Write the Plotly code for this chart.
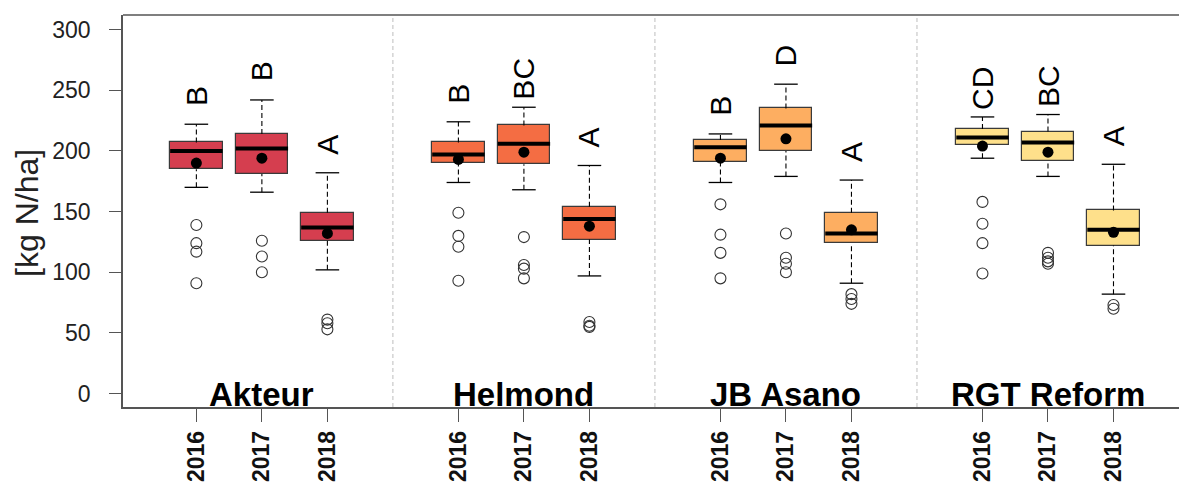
import plotly.graph_objects as go

# Nmin values [kg N/ha] per cultivar and year: box-plot summary statistics
cultivars = ["Akteur", "Helmond", "JB Asano", "RGT Reform"]
years = ["2016", "2017", "2018"]

lower_whisker = [170, 166, 102,  174, 168, 97,  174, 179, 91,  194, 179, 82]
q1            = [185, 181, 126,  190, 189, 127, 191, 200, 124, 205, 192, 122]
median        = [200, 202, 137,  197, 206, 144, 203, 221, 132, 211, 207, 135]
q3            = [207, 214, 149,  207, 221, 154, 209, 235, 149, 218, 216, 151]
upper_whisker = [222, 242, 182,  224, 236, 188, 214, 255, 176, 228, 230, 189]
means         = [190, 194, 132,  193, 199, 138, 194, 210, 135, 204, 199, 133]
outliers = [
    [139, 124, 117, 91], [126, 113, 100], [61, 58, 53],
    [149, 130, 121, 93], [129, 106, 103, 95], [59, 56, 55],
    [156, 131, 116, 95], [132, 112, 107, 100], [82, 78, 74],
    [158, 140, 124, 99], [116, 112, 109, 107], [73, 70],
]
letters = ["B", "B", "A", "B", "BC", "A", "B", "D", "A", "CD", "BC", "A"]

cultivar_colors = ["#D53E4F", "#F46D43", "#FDAE61", "#FEE08B"]

FONT = "Liberation Sans, Arial, sans-serif"
BOX_W = 0.8
CAP_HALF = 0.18
LETTER_OFFSET = 23.5

# x positions: three years per cultivar, one empty slot between cultivars
positions = []
box_colors = []
for g in range(len(cultivars)):
    for k in range(len(years)):
        positions.append(g * 4 + k + 1)
        box_colors.append(cultivar_colors[g])

fig = go.Figure()

# whiskers (dashed) drawn below the boxes
wx, wy = [], []
for i, p in enumerate(positions):
    wx += [p, p, None, p, p, None]
    wy += [q3[i], upper_whisker[i], None, lower_whisker[i], q1[i], None]
fig.add_trace(go.Scatter(x=wx, y=wy, mode="lines",
                         line=dict(color="black", width=1.1, dash="5px,3px"),
                         hoverinfo="skip", showlegend=False))

# whisker caps
cx, cy = [], []
for i, p in enumerate(positions):
    for v in (lower_whisker[i], upper_whisker[i]):
        cx += [p - CAP_HALF, p + CAP_HALF, None]
        cy += [v, v, None]
fig.add_trace(go.Scatter(x=cx, y=cy, mode="lines",
                         line=dict(color="black", width=1.3),
                         hoverinfo="skip", showlegend=False))

# boxes (Q1..Q3)
fig.add_trace(go.Bar(x=positions, base=q1,
                     y=[q3[i] - q1[i] for i in range(len(q1))],
                     width=BOX_W,
                     marker=dict(color=box_colors, line=dict(color="#3a3a3a", width=1.2)),
                     hoverinfo="skip", showlegend=False))

# medians
mx, my = [], []
for i, p in enumerate(positions):
    mx += [p - BOX_W / 2, p + BOX_W / 2, None]
    my += [median[i], median[i], None]
fig.add_trace(go.Scatter(x=mx, y=my, mode="lines",
                         line=dict(color="black", width=4),
                         hoverinfo="skip", showlegend=False))

# outliers
ox, oy = [], []
for i, p in enumerate(positions):
    for v in outliers[i]:
        ox.append(p)
        oy.append(v)
fig.add_trace(go.Scatter(x=ox, y=oy, mode="markers",
                         marker=dict(symbol="circle-open", size=11,
                                     color="#333333", line=dict(width=1.1)),
                         hoverinfo="skip", showlegend=False))

# means
fig.add_trace(go.Scatter(x=positions, y=means, mode="markers",
                         marker=dict(symbol="circle", size=11, color="black"),
                         hoverinfo="skip", showlegend=False))

annotations = []
# significance letters above the upper whiskers
for i, p in enumerate(positions):
    annotations.append(dict(x=p, y=upper_whisker[i] + LETTER_OFFSET, xref="x", yref="y",
                            text=letters[i], textangle=-90, showarrow=False,
                            xanchor="center", yanchor="middle",
                            font=dict(family=FONT, size=30, color="black")))
# cultivar names
for g, name in enumerate(cultivars):
    annotations.append(dict(x=g * 4 + 2, y=-0.5, xref="x", yref="y",
                            text=f"<b>{name}</b>", showarrow=False,
                            xanchor="center", yanchor="middle",
                            font=dict(family=FONT, size=33, color="black")))
# y-axis title
annotations.append(dict(x=-0.0915, y=0.496, xref="paper", yref="paper",
                        text="[kg N/ha]", textangle=-90, showarrow=False,
                        xanchor="center", yanchor="middle",
                        font=dict(family=FONT, size=32, color="#222222")))

shapes = []
# dashed separators between cultivars
for g in range(1, len(cultivars)):
    shapes.append(dict(type="line", xref="x", yref="paper", x0=g * 4, x1=g * 4,
                       y0=0, y1=1, line=dict(color="#BDBDBD", width=1, dash="4px,3px"),
                       layer="below"))
# top frame line
shapes.append(dict(type="line", xref="paper", yref="paper", x0=0, x1=1, y0=1, y1=1,
                   line=dict(color="#555555", width=1.5)))

fig.update_layout(
    width=1179, height=482,
    margin=dict(l=123, r=0, t=15, b=75),
    paper_bgcolor="white", plot_bgcolor="white",
    font=dict(family=FONT, color="#222222"),
    annotations=annotations, shapes=shapes,
    bargap=0,
)
fig.update_xaxes(
    range=[-0.12, 16.0],
    automargin=False,
    tickvals=positions,
    ticktext=[f"<b>{years[i % 3]}</b>" for i in range(len(positions))],
    tickangle=-90, tickfont=dict(family=FONT, size=23, color="#111111"),
    ticks="outside", ticklen=13, tickwidth=1.3, tickcolor="#555555",
    showline=True, linecolor="#555555", linewidth=1.5,
    showgrid=False, zeroline=False,
)
fig.update_yaxes(
    range=[-11, 312],
    automargin=False,
    tickvals=[0, 50, 100, 150, 200, 250, 300],
    tickfont=dict(family=FONT, size=23, color="#222222"),
    ticks="outside", ticklen=12, tickwidth=1.3, tickcolor="#555555",
    ticklabelstandoff=14,
    showline=True, linecolor="#555555", linewidth=1.5,
    showgrid=False, zeroline=False,
)

fig.write_html("out.html")
